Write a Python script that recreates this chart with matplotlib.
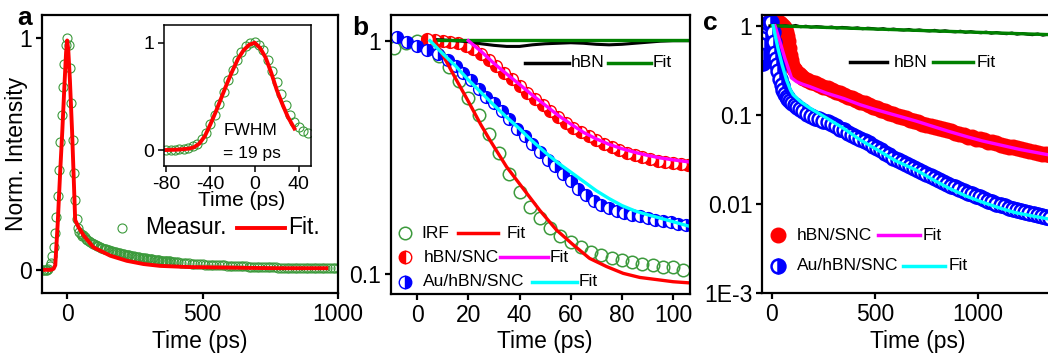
import matplotlib
matplotlib.use("Agg")
import matplotlib.pyplot as plt

plt.rcParams['font.family'] = ['Liberation Sans', 'DejaVu Sans']
plt.rcParams['axes.unicode_minus'] = False

# ---------------- panel a : IRF measurement ----------------
a_meas_t = ([-90, -85, -80, -75, -70, -65, -60, -55, -50, -45, -40, -35, -30, -25, -20, -15, -10, -5,
             0, 5, 10, 15, 20, 25, 30, 35, 40, 45, 50, 55]
            + list(range(60, 401, 5)) + list(range(410, 1001, 10)))
a_meas_v = [0.0, 0.0, 0.0, 0.0, 0.005, 0.015, 0.03, 0.06, 0.1, 0.16, 0.23, 0.32, 0.43, 0.55, 0.67, 0.79, 0.89, 0.97,
            1.0, 0.97, 0.87, 0.72, 0.56, 0.42, 0.3, 0.22, 0.18, 0.165, 0.155, 0.148,
            0.15, 0.142, 0.135, 0.13, 0.125, 0.121, 0.117, 0.113, 0.11, 0.107,
            0.104, 0.101, 0.099, 0.096, 0.094, 0.092, 0.09, 0.088, 0.086, 0.084,
            0.082, 0.08, 0.079, 0.077, 0.076, 0.074, 0.073, 0.071, 0.07, 0.068,
            0.067, 0.065, 0.064, 0.063, 0.062, 0.06, 0.059, 0.058, 0.057, 0.056,
            0.055, 0.054, 0.053, 0.052, 0.051, 0.05, 0.049, 0.048, 0.047, 0.046,
            0.046, 0.045, 0.044, 0.043, 0.043, 0.042, 0.041, 0.04, 0.04, 0.039,
            0.038, 0.038, 0.037, 0.036, 0.036, 0.035, 0.035, 0.034, 0.033,
            0.032, 0.031, 0.03, 0.029, 0.028, 0.027, 0.026, 0.026, 0.025, 0.024,
            0.023, 0.023, 0.022, 0.021, 0.021, 0.02, 0.019, 0.019, 0.018, 0.018,
            0.017, 0.017, 0.016, 0.016, 0.015, 0.015, 0.014, 0.014, 0.014, 0.013,
            0.013, 0.012, 0.012, 0.012, 0.011, 0.011, 0.011, 0.01, 0.01, 0.01,
            0.01, 0.009, 0.009, 0.009, 0.009, 0.008, 0.008, 0.008, 0.008, 0.008,
            0.007, 0.007, 0.007, 0.007, 0.007, 0.006, 0.006, 0.006, 0.006, 0.006]
a_fit_t = [-90, -60, -50, -44, -35, -26, -18, -10, -4, 0, 4, 10, 18, 24, 29.5, 42, 61, 97, 159, 220, 282, 343,
           450, 590, 700, 800, 957]
a_fit_v = [0.0, 0.0, 0.005, 0.02, 0.2, 0.42, 0.6, 0.8, 0.94, 0.99, 0.95, 0.82, 0.6, 0.4, 0.215, 0.184, 0.148,
           0.097, 0.061, 0.039, 0.025, 0.017, 0.012, 0.01, 0.008, 0.007, 0.007]

# inset
in_meas_t = [-80, -76, -72, -68, -64, -60, -56, -52, -48, -44, -40, -36, -32, -28, -24, -20, -16, -12, -8, -4,
             0, 4, 8, 12, 16, 20, 24, 28, 32, 36, 40, 44, 48]
in_meas_v = [0.0, 0.0, 0.0, 0.005, 0.01, 0.02, 0.035, 0.06, 0.1, 0.16, 0.24, 0.33, 0.43, 0.54, 0.65, 0.75,
             0.84, 0.91, 0.97, 1.0, 1.01, 0.98, 0.93, 0.84, 0.74, 0.63, 0.52, 0.42, 0.33, 0.26, 0.21, 0.18, 0.16]
in_fit_t = [-80, -70, -60, -55, -50, -45, -40, -35, -30, -25, -20, -15, -10, -5, 0, 5, 10, 15, 20, 25, 30, 36]
in_fit_v = [0.0, 0.003, 0.012, 0.025, 0.06, 0.13, 0.24, 0.36, 0.49, 0.62, 0.74, 0.85, 0.93, 0.98, 1.0, 0.95,
            0.86, 0.72, 0.56, 0.43, 0.31, 0.2]

# ---------------- panel b : early times ----------------
b_irf_t = [-9, -4.5, 0, 4.5, 8.5, 12.5, 16.5, 20, 24, 28, 32, 36, 40, 44, 48, 52, 56, 60, 64, 68, 72, 76, 80,
           84, 88, 92, 96, 100, 104]
b_irf_v = [0.93, 0.98, 1.0, 0.95, 0.86, 0.77, 0.67, 0.57, 0.48, 0.4, 0.33, 0.27, 0.225, 0.195, 0.175, 0.158,
           0.146, 0.138, 0.131, 0.125, 0.121, 0.117, 0.115, 0.113, 0.111, 0.11, 0.108, 0.107, 0.104]
b_irf_fit_t = [7, 10, 15, 20, 25, 28.4, 34.9, 41.4, 47.9, 54.4, 60.9, 67.4, 74, 80.5, 87, 93.5, 100, 106]
b_irf_fit_v = [1.0, 0.87, 0.69, 0.55, 0.435, 0.376, 0.289, 0.233, 0.188, 0.155, 0.134, 0.117, 0.108, 0.101,
               0.097, 0.095, 0.093, 0.092]

b_snc_t = [4, 7, 10, 13, 16, 19, 22, 25, 28, 31, 34, 37, 40, 43, 46, 49, 52, 55, 58, 61, 64, 67, 70, 73, 76,
           79, 82, 85, 88, 91, 94, 97, 100, 103, 106]
b_snc_v = [1.02, 1.01, 1.0, 0.99, 0.975, 0.95, 0.92, 0.88, 0.83, 0.78, 0.73, 0.685, 0.64, 0.6, 0.565, 0.53,
           0.5, 0.47, 0.445, 0.425, 0.405, 0.39, 0.375, 0.362, 0.35, 0.34, 0.332, 0.325, 0.318, 0.312, 0.307,
           0.303, 0.3, 0.297, 0.295]
b_snc_fit_t = [20, 25, 30, 35, 40, 45, 50, 55, 60, 65, 70, 75, 80, 85, 90, 95, 100, 106]
b_snc_fit_v = [1.0, 0.9, 0.8, 0.72, 0.65, 0.585, 0.53, 0.48, 0.44, 0.405, 0.38, 0.36, 0.345, 0.333, 0.323,
               0.315, 0.309, 0.303]

b_au_t = [-8, -4, 0, 4, 8, 12, 15, 18, 21, 24, 27, 30, 33, 36, 39, 42, 45, 48, 51, 54, 57, 60, 63, 66, 69,
          72, 75, 78, 81, 84, 87, 90, 93, 96, 99, 102, 105]
b_au_v = [1.04, 0.99, 0.95, 0.915, 0.88, 0.83, 0.78, 0.73, 0.68, 0.62, 0.575, 0.54, 0.5, 0.46, 0.42, 0.39,
          0.36, 0.335, 0.31, 0.29, 0.27, 0.25, 0.233, 0.218, 0.206, 0.198, 0.192, 0.187, 0.183, 0.18, 0.177,
          0.174, 0.171, 0.169, 0.167, 0.165, 0.163]
b_au_fit_t = [5, 10, 15, 20, 25, 30, 35, 40, 45, 50, 55, 60, 65, 70, 75, 80, 85, 90, 95, 100, 106]
b_au_fit_v = [1.0, 0.88, 0.78, 0.68, 0.6, 0.53, 0.47, 0.42, 0.372, 0.333, 0.3, 0.274, 0.25, 0.228, 0.211,
              0.197, 0.187, 0.18, 0.174, 0.168, 0.161]

b_hbn_t = [8, 15, 20, 25, 30, 35, 40, 45, 50, 55, 60, 65, 70, 75, 80, 85, 90, 95, 100, 106]
b_hbn_v = [1.01, 1.0, 0.99, 0.97, 0.955, 0.945, 0.945, 0.96, 0.97, 0.975, 0.98, 0.975, 0.965, 0.96, 0.965,
           0.975, 0.985, 0.995, 1.0, 1.0]
b_hbn_fit_t = [8, 106]
b_hbn_fit_v = [1.01, 1.01]

# ---------------- panel c : long times ----------------
c_hbn_t = [-10, 15, 40, 65, 90, 115, 140, 165, 190, 215, 240, 265, 290, 315, 340, 365, 390, 415, 440, 465,
           490, 515, 540, 565, 590, 615, 640, 665, 690, 715, 740, 765, 790, 815, 840, 865, 890, 915, 940, 965,
           990, 1015, 1040, 1065, 1090, 1115, 1140, 1165, 1190, 1215, 1240, 1265, 1290, 1315, 1340, 1370]
c_hbn_v = [1.0, 1.02, 0.99, 1.0, 0.98, 1.01, 0.97, 0.99, 0.96, 0.98, 0.97, 0.95, 0.97, 0.94, 0.96, 0.95,
           0.93, 0.95, 0.92, 0.94, 0.93, 0.91, 0.93, 0.9, 0.92, 0.9, 0.89, 0.91, 0.88, 0.9, 0.88, 0.87, 0.89,
           0.86, 0.88, 0.86, 0.85, 0.87, 0.84, 0.86, 0.84, 0.83, 0.85, 0.82, 0.84, 0.82, 0.81, 0.83, 0.8, 0.82,
           0.8, 0.79, 0.81, 0.78, 0.8, 0.79]
c_hbn_fit_t = [0, 1374]
c_hbn_fit_v = [1.0, 0.79]

c_snc_t = [-30, -20, -10, 0, 10, 20, 30, 40, 50, 60, 65, 70, 75, 80, 85, 90, 95, 100, 105, 110, 120, 130,
           140, 150] + list(range(170, 1351, 20))
c_snc_v = [0.95, 1.08, 1.12, 1.13, 1.12, 1.12, 1.1, 1.07, 1.02, 0.97, 0.92, 0.85, 0.76, 0.67, 0.56, 0.47,
           0.41, 0.36, 0.33, 0.315, 0.298, 0.285, 0.272, 0.262,
           0.248, 0.235, 0.225, 0.215, 0.206, 0.198, 0.19, 0.182, 0.174, 0.167, 0.16, 0.153, 0.146, 0.14,
           0.134, 0.128, 0.123, 0.118, 0.113, 0.109, 0.105, 0.101, 0.097, 0.094, 0.091, 0.088, 0.085, 0.082,
           0.079, 0.077, 0.075, 0.073, 0.071, 0.069, 0.067, 0.065, 0.063, 0.061, 0.059, 0.057, 0.056, 0.054,
           0.053, 0.052, 0.05, 0.049, 0.048, 0.046, 0.045, 0.044, 0.043, 0.042, 0.041, 0.04, 0.039, 0.038,
           0.037, 0.036, 0.036, 0.035]
c_snc_fit_t = [15, 40, 63, 80, 95, 120, 150, 184, 265, 350, 427, 500, 620, 700, 782, 860, 944, 1020, 1105,
               1200, 1338, 1374]
c_snc_fit_v = [1.0, 0.65, 0.43, 0.33, 0.26, 0.235, 0.22, 0.207, 0.175, 0.152, 0.13, 0.115, 0.096, 0.085,
               0.074, 0.065, 0.057, 0.051, 0.046, 0.041, 0.0357, 0.035]

c_au_t = [-44, -40, -35, -30, -25, -18, -10, -2, 5, 10, 15, 20, 25, 30, 39, 47, 55, 63, 71, 80, 90, 100, 110,
          120, 135, 150] + list(range(170, 1351, 20))
c_au_v = [0.38, 0.48, 0.66, 0.85, 0.98, 1.07, 1.1, 1.1, 0.85, 0.65, 0.5, 0.42, 0.36, 0.31, 0.25, 0.215, 0.19,
          0.172, 0.16, 0.15, 0.141, 0.134, 0.128, 0.123, 0.116, 0.11,
          0.102, 0.097, 0.093, 0.089, 0.085, 0.082, 0.078, 0.074, 0.07, 0.067, 0.063, 0.06, 0.057, 0.054,
          0.051, 0.048, 0.045, 0.042, 0.04, 0.037, 0.035, 0.033, 0.031, 0.0295, 0.028, 0.0265, 0.025, 0.0238,
          0.0226, 0.0215, 0.0204, 0.0194, 0.0185, 0.0176, 0.0168, 0.016, 0.0153, 0.0146, 0.014, 0.0134,
          0.0128, 0.0123, 0.0118, 0.0113, 0.0109, 0.0105, 0.0101, 0.0097, 0.0094, 0.0091, 0.0088, 0.0085,
          0.0083, 0.0081, 0.0079, 0.0077, 0.0075, 0.0073, 0.0071, 0.007]
c_au_fit_t = [6, 30, 50, 71, 90, 103, 140, 184, 265, 350, 427, 500, 600, 700, 782, 860, 944, 1020, 1105,
              1180, 1267, 1338, 1374]
c_au_fit_v = [1.0, 0.55, 0.36, 0.246, 0.19, 0.168, 0.14, 0.119, 0.092, 0.07, 0.0525, 0.042, 0.0305, 0.024,
              0.0187, 0.015, 0.0122, 0.0105, 0.009, 0.008, 0.0073, 0.0068, 0.0066]

GREEN_O = '#3c9a3c'
W, H = 1048, 356


def axes_px(left, top, right, bottom):
    return [left / W, 1 - bottom / H, (right - left) / W, (bottom - top) / H]


def style(ax, fs=16.5, lw=1.6):
    for s in ax.spines.values():
        s.set_linewidth(lw)
    ax.tick_params(direction='out', length=4, width=lw, labelsize=fs, pad=3,
                   top=False, right=False, which='major')
    ax.tick_params(which='minor', left=False, bottom=False)


def key_line(ax, x0, x1, y, color):
    ax.plot([x0, x1], [y, y], transform=ax.transAxes, color=color, lw=2.5, clip_on=False)


def key_text(ax, x, y, s, fs=12.5):
    ax.text(x, y, s, transform=ax.transAxes, ha='left', va='center', fontsize=fs)


fig = plt.figure(figsize=(10.48, 3.56), dpi=100)

# ---- a ----
axa = fig.add_axes(axes_px(42, 15, 338, 293))
axa.plot(a_meas_t, a_meas_v, 'o', ms=6.5, mfc='none', mec=GREEN_O, mew=0.8)
axa.plot(a_fit_t, a_fit_v, '-', color='red', lw=2.8)
axa.set_xlim(-93, 1000)
axa.set_ylim(-0.1, 1.1)
axa.set_xticks([0, 500, 1000])
axa.set_yticks([0, 1])
axa.set_yticklabels(['0', '1'])
style(axa)
axa.set_xlabel('Time (ps)', fontsize=16.5)
axa.xaxis.set_label_coords(0.534, -0.133)
axa.set_ylabel('Norm. Intensity', fontsize=16.5)
axa.yaxis.set_label_coords(-0.047, 0.5)
axa.plot([0.27], [0.234], 'o', ms=6.5, mfc='none', mec=GREEN_O, mew=0.8, transform=axa.transAxes)
key_text(axa, 0.348, 0.234, 'Measur.', fs=16.5)
axa.plot([0.659, 0.821], [0.234, 0.234], transform=axa.transAxes, color='red', lw=2.8)
key_text(axa, 0.831, 0.234, 'Fit.', fs=16.5)

axi = fig.add_axes(axes_px(164, 25, 311, 166))
axi.plot(in_meas_t, in_meas_v, 'o', ms=6.5, mfc='none', mec=GREEN_O, mew=0.8)
axi.plot(in_fit_t, in_fit_v, '-', color='red', lw=2.8)
axi.set_xlim(-82, 51)
axi.set_ylim(-0.149, 1.165)
axi.set_xticks([-80, -40, 0, 40])
axi.set_yticks([0, 1])
axi.set_yticklabels(['0', '1'])
style(axi, fs=14, lw=1.1)
axi.set_xlabel('Time (ps)', fontsize=15)
axi.xaxis.set_label_coords(0.53, -0.18)
axi.text(-4, 0.18, 'FWHM', ha='center', va='center', fontsize=12.5)
axi.text(-2, -0.03, '= 19 ps', ha='center', va='center', fontsize=12.5)

# ---- b ----
axb = fig.add_axes(axes_px(391, 15, 690, 294))
axb.set_yscale('log')
axb.plot(b_irf_t, b_irf_v, 'o', ms=9, mfc='none', mec=GREEN_O, mew=1.1)
axb.plot(b_snc_t, b_snc_v, 'o', ms=8.5, fillstyle='left', mfc='red', mfcalt='white', mec='red', mew=1.0)
axb.plot(b_au_t, b_au_v, 'o', ms=8.5, fillstyle='right', mfc='blue', mfcalt='white', mec='blue', mew=1.0)
axb.plot(b_hbn_t, b_hbn_v, '-', color='black', lw=2.2)
axb.plot(b_hbn_fit_t, b_hbn_fit_v, '-', color='green', lw=2.4)
axb.plot(b_irf_fit_t, b_irf_fit_v, '-', color='red', lw=2.4)
axb.plot(b_snc_fit_t, b_snc_fit_v, '-', color='magenta', lw=2.4)
axb.plot(b_au_fit_t, b_au_fit_v, '-', color='cyan', lw=2.4)
axb.set_xlim(-10.2, 106.6)
axb.set_ylim(0.0824, 1.288)
axb.set_xticks([0, 20, 40, 60, 80, 100])
axb.set_yticks([0.1, 1])
axb.set_yticklabels(['0.1', '1'])
axb.yaxis.set_minor_locator(matplotlib.ticker.NullLocator())
style(axb)
axb.set_xlabel('Time (ps)', fontsize=16.5)
axb.xaxis.set_label_coords(0.515, -0.129)

key_line(axb, 0.448, 0.596, 0.828, 'black')
key_text(axb, 0.602, 0.828, 'hBN')
key_line(axb, 0.726, 0.87, 0.828, 'green')
key_text(axb, 0.876, 0.828, 'Fit')

axb.plot([0.047], [0.2175], 'o', ms=9, mfc='none', mec=GREEN_O, mew=1.1, transform=axb.transAxes)
key_text(axb, 0.103, 0.2175, 'IRF')
key_line(axb, 0.225, 0.359, 0.2175, 'red')
key_text(axb, 0.387, 0.2175, 'Fit')
axb.plot([0.047], [0.1314], 'o', ms=9, fillstyle='left', mfc='red', mfcalt='white', mec='red',
         transform=axb.transAxes)
key_text(axb, 0.108, 0.1314, 'hBN/SNC')
key_line(axb, 0.3645, 0.526, 0.1314, 'magenta')
key_text(axb, 0.532, 0.1314, 'Fit')
axb.plot([0.047], [0.0442], 'o', ms=9, fillstyle='right', mfc='blue', mfcalt='white', mec='blue',
         transform=axb.transAxes)
key_text(axb, 0.108, 0.0442, 'Au/hBN/SNC')
key_line(axb, 0.4705, 0.621, 0.0442, 'cyan')
key_text(axb, 0.627, 0.0442, 'Fit')

# ---- c ----
axc = fig.add_axes(axes_px(762, 15, 1055, 293))
axc.set_yscale('log')
axc.plot(c_snc_t, c_snc_v, 'o', ms=10.5, color='red', mec='red')
axc.plot(c_au_t, c_au_v, 'o', ms=10, fillstyle='right', mfc='blue', mfcalt='white', mec='blue', mew=1.8)
axc.plot(c_hbn_t, c_hbn_v, '-', color='black', lw=2.0)
axc.plot(c_hbn_fit_t, c_hbn_fit_v, '-', color='green', lw=2.4)
axc.plot(c_snc_fit_t, c_snc_fit_v, '-', color='magenta', lw=2.4)
axc.plot(c_au_fit_t, c_au_fit_v, '-', color='cyan', lw=2.4)
axc.set_xlim(-48, 1374)
axc.set_ylim(1e-3, 1.318)
axc.set_xticks([0, 500, 1000])
axc.set_yticks([1e-3, 1e-2, 0.1, 1])
axc.set_yticklabels(['1E-3', '0.01', '0.1', '1'])
axc.yaxis.set_minor_locator(matplotlib.ticker.NullLocator())
style(axc)
axc.set_xlabel('Time (ps)', fontsize=16.5)
axc.xaxis.set_label_coords(0.53, -0.133)

key_line(axc, 0.300, 0.426, 0.83, 'black')
key_text(axc, 0.45, 0.83, 'hBN')
key_line(axc, 0.585, 0.721, 0.83, 'green')
key_text(axc, 0.733, 0.83, 'Fit')
axc.plot([0.0557], [0.2086], 'o', ms=10.5, color='red', transform=axc.transAxes)
key_text(axc, 0.118, 0.2086, 'hBN/SNC')
key_line(axc, 0.397, 0.539, 0.2086, 'magenta')
key_text(axc, 0.547, 0.2086, 'Fit')
axc.plot([0.0557], [0.098], 'o', ms=10, fillstyle='right', mfc='blue', mfcalt='white', mec='blue',
         mew=1.8, transform=axc.transAxes)
key_text(axc, 0.118, 0.098, 'Au/hBN/SNC')
key_line(axc, 0.482, 0.625, 0.098, 'cyan')
key_text(axc, 0.636, 0.098, 'Fit')

# panel letters
fig.text(17 / W, 1 - 25 / H, 'a', fontsize=19, fontweight='bold', va='baseline')
fig.text(352 / W, 1 - 35 / H, 'b', fontsize=19, fontweight='bold', va='baseline')
fig.text(703 / W, 1 - 30 / H, 'c', fontsize=19, fontweight='bold', va='baseline')

fig.savefig('out.png', dpi=100)
